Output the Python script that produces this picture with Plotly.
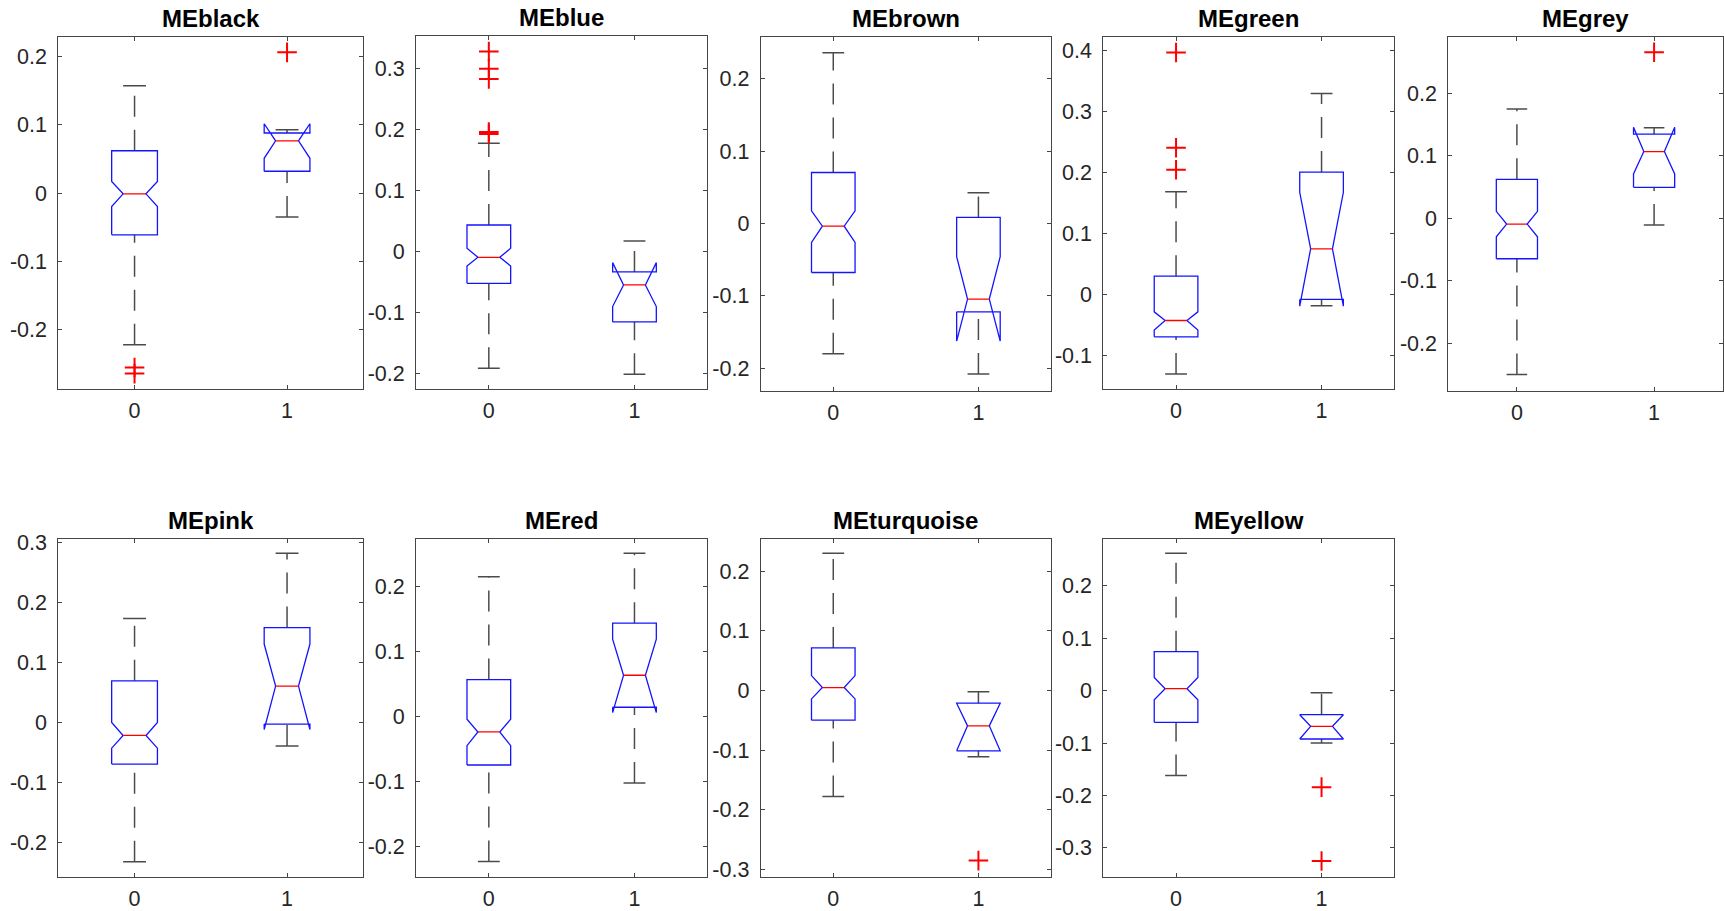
import plotly.graph_objects as go

# ---------------- data ----------------
MODULES = ["MEblack", "MEblue", "MEbrown", "MEgreen", "MEgrey",
           "MEpink", "MEred", "MEturquoise", "MEyellow"]
GROUPS = ["0", "1"]

# per module: [group 0, group 1]
Q1 = [[-0.061, 0.032], [-0.0519, -0.1153], [-0.0677, -0.122], [-0.070, -0.0087],
      [-0.0647, 0.0497], [-0.0694, -0.0028], [-0.0744, 0.0144], [-0.0497, -0.101],
      [-0.0604, -0.0922]]
MEDIAN = [[-0.001, 0.0766], [-0.0093, -0.0546], [-0.0037, -0.1045], [-0.0432, 0.0743],
          [-0.0091, 0.107], [-0.0217, 0.0606], [-0.0236, 0.0636], [0.005, -0.0592],
          [0.0038, -0.068]]
Q3 = [[0.062, 0.088], [0.0437, -0.0333], [0.0704, 0.0083], [0.0295, 0.200],
      [0.0626, 0.1348], [0.0694, 0.158], [0.0569, 0.1436], [0.0715, -0.0212],
      [0.0744, -0.0458]]
NOTCH_LO = [[-0.0195, 0.051], [-0.0235, -0.090], [-0.0262, -0.1625], [-0.059, -0.0197],
            [-0.0294, 0.0711], [-0.0428, -0.0117], [-0.0446, 0.0062], [-0.014, -0.101],
            [-0.0172, -0.0922]]
NOTCH_HI = [[0.017, 0.1015], [0.0055, -0.018], [0.0175, -0.046], [-0.029, 0.167],
            [0.0112, 0.146], [0.0, 0.1306], [-0.0041, 0.119], [0.0251, -0.0212],
            [0.0254, -0.0458]]
WHISK_LO = [[-0.222, -0.035], [-0.191, -0.201], [-0.180, -0.208], [-0.131, -0.019],
            [-0.250, -0.0107], [-0.232, -0.0394], [-0.2226, -0.102], [-0.1777, -0.111],
            [-0.1616, -0.0999]]
WHISK_HI = [[0.157, 0.0927], [0.1776, 0.0175], [0.236, 0.0424], [0.168, 0.329],
            [0.175, 0.145], [0.173, 0.2817], [0.215, 0.251], [0.230, -0.0022],
            [0.262, -0.0038]]
OUTLIERS = [[[-0.255, -0.264], [0.206]],
            [[0.328, 0.300, 0.283, 0.196, 0.193], []],
            [[], []],
            [[0.396, 0.240, 0.204], []],
            [[], [0.266]],
            [[], []],
            [[], []],
            [[], [-0.285]],
            [[], [-0.184, -0.325]]]

YLIM = [[-0.287, 0.228], [-0.2257, 0.3536], [-0.231, 0.258], [-0.156, 0.421],
        [-0.276, 0.290], [-0.258, 0.3056], [-0.247, 0.273], [-0.313, 0.254],
        [-0.356, 0.2894]]
YTICKS = [-0.3, -0.2, -0.1, 0.0, 0.1, 0.2, 0.3, 0.4]
YTICK_LABELS = ["-0.3", "-0.2", "-0.1", "0", "0.1", "0.2", "0.3", "0.4"]

# ---------------- layout (pixel boxes of the axes) ----------------
W, H = 1724, 911
AX_LEFT = [58.3, 416.0, 760.7, 1103.3, 1448.3, 58.3, 416.0, 760.7, 1103.3]
AX_RIGHT = [363.3, 707.3, 1051.0, 1394.3, 1722.7, 363.3, 707.3, 1051.0, 1394.3]
AX_TOP = [37.3, 36.0, 36.7, 37.3, 37.3, 539.0, 539.0, 539.0, 539.0]
AX_BOT = [389.3, 389.3, 390.7, 389.3, 390.7, 877.3, 877.3, 877.3, 877.3]

HALF_W = 0.15      # half box width (data units)
NOTCH_W = 0.075    # half width at the median
CAP_W = 0.075      # half width of whisker caps

BLUE = "rgb(20,20,255)"
RED = "rgb(255,0,0)"
WHISK = "rgb(75,75,75)"
AXC = "rgb(70,70,70)"
FONT = "Liberation Sans, Helvetica, Arial, sans-serif"

fig = go.Figure()
annotations = []

for i, name in enumerate(MODULES):
    xa = "x" if i == 0 else f"x{i+1}"
    ya = "y" if i == 0 else f"y{i+1}"
    for g in range(len(GROUPS)):
        p = g
        q1, md, q3 = Q1[i][g], MEDIAN[i][g], Q3[i][g]
        nlo, nhi = NOTCH_LO[i][g], NOTCH_HI[i][g]
        wlo, whi = WHISK_LO[i][g], WHISK_HI[i][g]
        # whiskers (dashed)
        fig.add_trace(go.Scatter(x=[p, p], y=[q3, whi], mode="lines", xaxis=xa, yaxis=ya,
                                 line=dict(color=WHISK, width=1.5, dash="21px,13px"),
                                 hoverinfo="skip", showlegend=False))
        fig.add_trace(go.Scatter(x=[p, p], y=[wlo, q1], mode="lines", xaxis=xa, yaxis=ya,
                                 line=dict(color=WHISK, width=1.5, dash="21px,13px"),
                                 hoverinfo="skip", showlegend=False))
        # caps
        for v in (whi, wlo):
            fig.add_trace(go.Scatter(x=[p - CAP_W, p + CAP_W], y=[v, v], mode="lines",
                                     xaxis=xa, yaxis=ya,
                                     line=dict(color=WHISK, width=1.5),
                                     hoverinfo="skip", showlegend=False))
        # notched box outline
        L, R = p - HALF_W, p + HALF_W
        NL, NR = p - NOTCH_W, p + NOTCH_W
        bx = [L, L, NL, L, L, R, R, NR, R, R, L]
        by = [q1, nlo, md, nhi, q3, q3, nhi, md, nlo, q1, q1]
        fig.add_trace(go.Scatter(x=bx, y=by, mode="lines", xaxis=xa, yaxis=ya,
                                 line=dict(color=BLUE, width=1.3),
                                 hoverinfo="skip", showlegend=False))
        # median
        fig.add_trace(go.Scatter(x=[NL, NR], y=[md, md], mode="lines", xaxis=xa, yaxis=ya,
                                 line=dict(color=RED, width=1.3),
                                 hoverinfo="skip", showlegend=False))
        # outliers
        outs = OUTLIERS[i][g]
        if outs:
            fig.add_trace(go.Scatter(x=[p] * len(outs), y=outs, mode="markers",
                                     xaxis=xa, yaxis=ya,
                                     marker=dict(symbol="cross-thin", size=14,
                                                 line=dict(color=RED, width=2)),
                                     hoverinfo="skip", showlegend=False))

    xdom = [AX_LEFT[i] / W, AX_RIGHT[i] / W]
    ydom = [1 - AX_BOT[i] / H, 1 - AX_TOP[i] / H]
    common = dict(showline=True, mirror="ticks", linecolor=AXC, linewidth=1,
                  ticks="inside", ticklen=4, tickcolor=AXC, tickwidth=1,
                  showgrid=False, zeroline=False, fixedrange=True, automargin=False,
                  tickfont=dict(family=FONT, size=21.5, color="rgb(38,38,38)"))
    fig.layout[("xaxis" if i == 0 else f"xaxis{i+1}")] = dict(
        domain=xdom, range=[-0.5, 1.5], tickvals=[0, 1], ticktext=GROUPS,
        anchor=ya, ticklabelstandoff=2, **common)
    fig.layout[("yaxis" if i == 0 else f"yaxis{i+1}")] = dict(
        domain=ydom, range=YLIM[i], tickvals=YTICKS, ticktext=YTICK_LABELS,
        anchor=xa, ticklabelstandoff=6, **common)
    annotations.append(dict(text=name, x=(xdom[0] + xdom[1]) / 2, y=ydom[1],
                            xref="paper", yref="paper", xanchor="center", yanchor="bottom",
                            yshift=3, showarrow=False,
                            font=dict(family=FONT, size=24, color="black", weight="bold")))

fig.update_layout(width=W, height=H, margin=dict(l=0, r=0, t=0, b=0, autoexpand=False),
                  paper_bgcolor="white", plot_bgcolor="white",
                  annotations=annotations, showlegend=False)

fig.write_html("out.html")
